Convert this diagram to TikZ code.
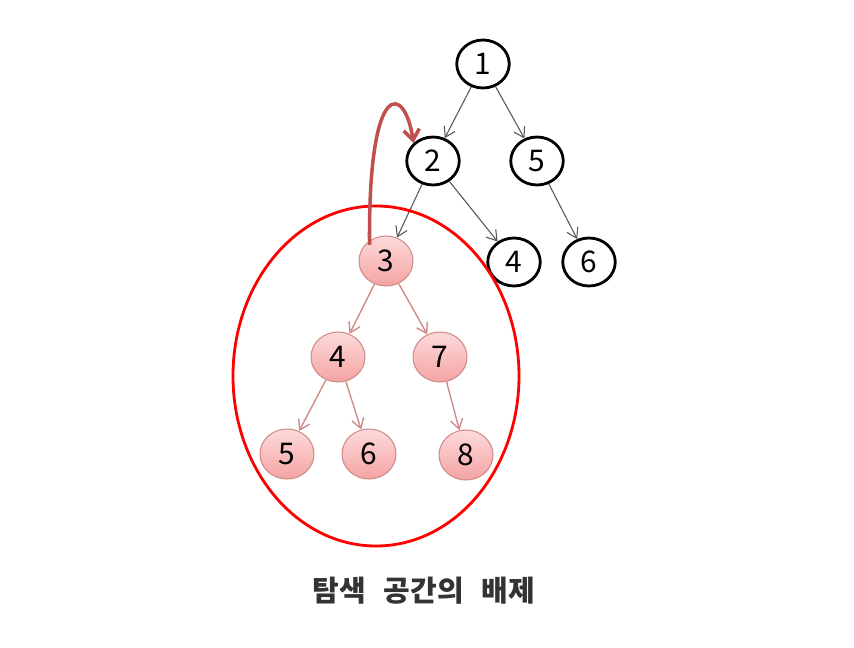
\documentclass[tikz,border=0pt]{standalone}
\usepackage{fontspec}
\setmainfont{Noto Sans CJK KR}
\usetikzlibrary{shapes.geometric,arrows.meta,positioning}
\definecolor{pinkline}{HTML}{CF8C8A}
\definecolor{pinktop}{HTML}{FDDADA}
\definecolor{pinkbot}{HTML}{F5A3A3}
\definecolor{backarrow}{HTML}{C0504D}
\definecolor{edgegray}{HTML}{555555}

\begin{document}
\begin{tikzpicture}
[x=0.02cm,y=-0.02cm,
every node/.style={shape=ellipse,inner sep=0pt,font=\fontsize{17}{17}\selectfont},
blacknode/.style={draw,line width=1.6pt,minimum width=1.05cm,minimum height=0.96cm},
pinknode/.style={draw=pinkline,line width=0.6pt,top color=pinktop,bottom color=pinkbot,minimum width=1.08cm,minimum height=1.0cm},
gedge/.style={->,>={Straight Barb[length=5.5pt,width=7pt]},draw=edgegray,line width=0.6pt},
pedge/.style={->,>={Straight Barb[length=5.5pt,width=7pt]},draw=pinkline,line width=0.8pt}]

\useasboundingbox (0,0) rectangle (854,648);

% top part
\node[blacknode] (n1) at (483,64) {1};
\node[blacknode] (n2) at (433,161) {2};
\node[blacknode] (n5) at (537,161) {5};
\node[blacknode] (n4) at (514,262) {4};
\node[blacknode] (n6) at (589,262) {6};

% excluded subtree
\node[pinknode] (p3) at (386,261) {3};
\node[pinknode] (p4) at (338,357) {4};
\node[pinknode] (p7) at (440,357) {7};
\node[pinknode] (p5) at (287,454) {5};
\node[pinknode] (p6) at (369,454) {6};
\node[pinknode] (p8) at (466,455) {8};

\path
\foreach \startNode/\endNode in {n1/n2,n1/n5,n2/p3,n2/n4,n5/n6}{
	(\startNode) edge[gedge] (\endNode)
};
\path
\foreach \startNode/\endNode in {p3/p4,p3/p7,p4/p5,p4/p6,p7/p8}{
	(\startNode) edge[pedge] (\endNode)
};

\draw[red,line width=1.6pt] (376,376) ellipse (143 and 170);

\draw[backarrow,line width=2pt,->,>={Straight Barb[length=6pt,width=9pt]}]
	(p3.north west) ++(3,2) .. controls (368,75) and (405,85) .. (n2.north west);

\node[font=\fontsize{16.5}{16.5}\selectfont\bfseries,text=black!80] (cap) at (424,591) {탐색\hspace{0.36cm}공간의\hspace{0.36cm}배제};
\end{tikzpicture}
\end{document}
